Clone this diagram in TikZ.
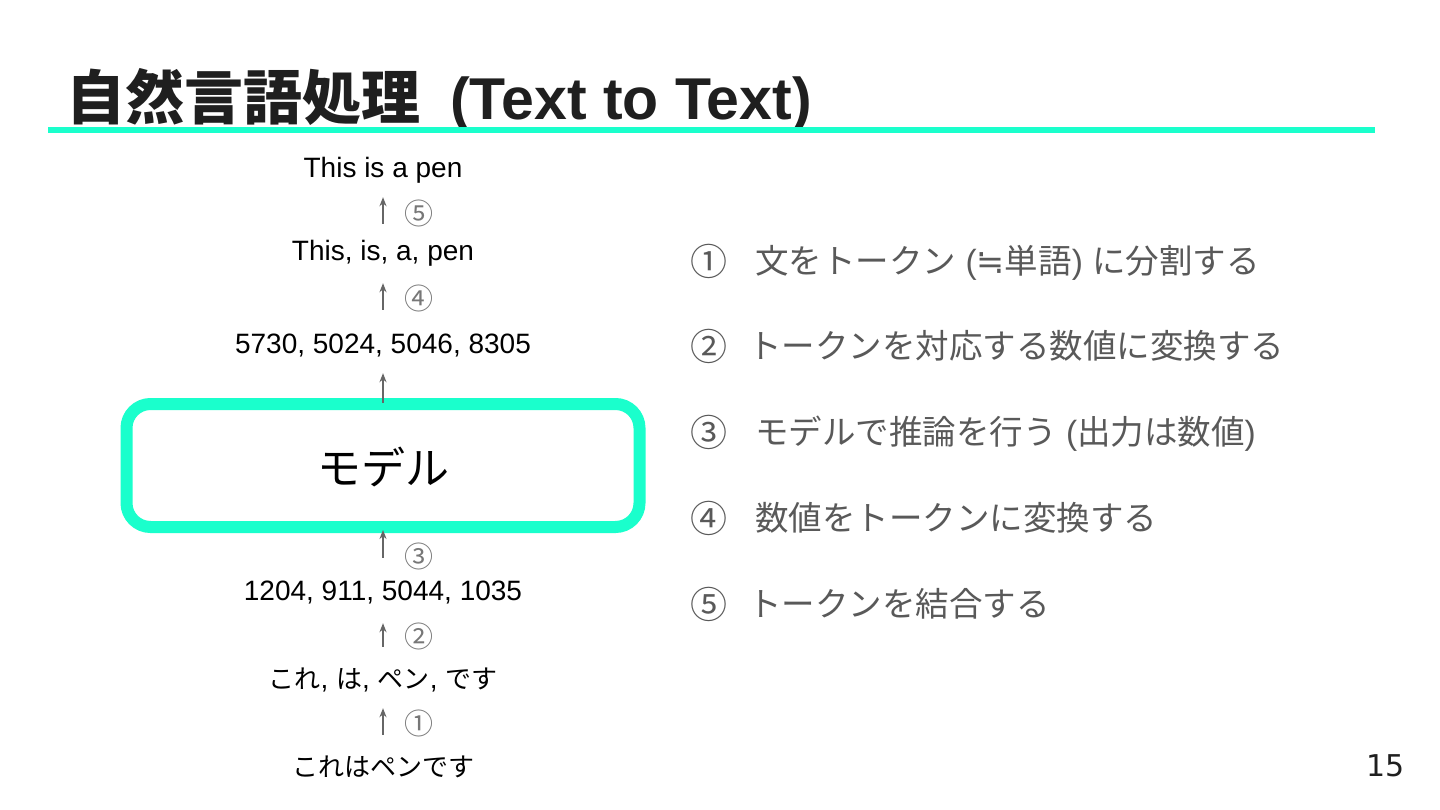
\documentclass[tikz,border=0pt]{standalone}
\usepackage{fontspec}
\setmainfont{Liberation Sans}
\newfontfamily\jp{Noto Sans CJK JP}
\newfontfamily\dv{DejaVu Sans}
\usetikzlibrary{arrows.meta}
\definecolor{teal1}{RGB}{26,255,204}
\definecolor{arrgray}{HTML}{666666}
\definecolor{numgray}{HTML}{777777}
\definecolor{listgray}{HTML}{595959}
\definecolor{titleblack}{HTML}{1F1F1F}
\tikzset{
  lat/.style={inner sep=0pt, text height=20pt, text depth=0pt, font=\fontsize{28}{32}\selectfont},
  jpl/.style={inner sep=0pt, text height=20pt, text depth=0pt, font=\fontsize{26}{30}\selectfont\jp},
  circnum/.style={inner sep=0pt, text=numgray, font=\fontsize{29}{32}\selectfont\jp},
  listnum/.style={inner sep=0pt, text=listgray, font=\fontsize{37}{40}\selectfont\jp},
  flow/.style={draw=arrgray, line width=2pt, -{Stealth[length=9pt,width=7pt]}},
  listitem/.style={anchor=west, inner sep=0pt, text height=29pt, text depth=4pt, text=listgray, font=\fontsize{33.5}{38}\selectfont},
  modelbox/.style={draw=teal1, line width=12pt, rounded corners=24pt, minimum width=513pt, minimum height=123pt, inner sep=0pt}
}
\begin{document}
\begin{tikzpicture}[x=1pt,y=-1pt]
\useasboundingbox[fill=white] (0,0) rectangle (1440,810);
% title
\node[anchor=base west, inner sep=0pt, text=titleblack, font=\fontsize{59}{65}\selectfont\bfseries] (title) at (66,120) {{\jp 自然言語処理}\hspace{30pt}(Text to Text)};
\fill[teal1] (48,127) rectangle (1375,133);
% left column
\node[lat] (t5) at (383,168) {This is a pen};
\node[lat] (t4) at (383,251) {This, is, a, pen};
\node[lat] (t3) at (383,343) {5730, 5024, 5046, 8305};
\node[modelbox] (model) at (383,465.5) {};
\node[inner sep=0pt, font=\fontsize{44}{48}\selectfont\jp] (modeltxt) at (383,467) {モデル};
\node[lat] (t2) at (383,590) {1204, 911, 5044, 1035};
\node[jpl] (t1) at (383,678) {これ{\fontsize{28}{32}\selectfont\rmfamily, }は{\fontsize{28}{32}\selectfont\rmfamily, }ペン{\fontsize{28}{32}\selectfont\rmfamily, }です};
\node[jpl] (t0) at (383,766) {これはペンです};
% arrows
\draw[flow, shorten <=21pt, shorten >=20pt] (t0.north) -- (t1.south);
\draw[flow, shorten <=21pt, shorten >=23pt] (t1.north) -- (t2.south);
\draw[flow, shorten <=22pt, shorten >=-3pt] (t2.north) -- (model.south);
\draw[flow, shorten <=-5pt, shorten >=20pt] (model.north) -- (t3.south);
\draw[flow, shorten <=23pt, shorten >=22pt] (t3.north) -- (t4.south);
\draw[flow, shorten <=17pt, shorten >=19pt] (t4.north) -- (t5.south);
% step numbers
\node[circnum] (c1) at (419,723) {①};
\node[circnum] (c2) at (419,636) {②};
\node[circnum] (c3) at (419,556) {③};
\node[circnum] (c4) at (419,298) {④};
\node[circnum] (c5) at (419,213) {⑤};
% right list
\node[listnum] (n1) at (709,261) {①};
\node[listitem] (l1) at (755,261) {{\jp 文をトークン} ({\dv ≒}{\jp 単語}) {\jp に分割する}};
\node[listnum] (n2) at (709,346) {②};
\node[listitem] (l2) at (748,346) {\jp トークンを対応する数値に変換する};
\node[listnum] (n3) at (709,432) {③};
\node[listitem] (l3) at (755,432) {{\jp モデルで推論を行う} ({\jp 出力は数値})};
\node[listnum] (n4) at (709,518) {④};
\node[listitem] (l4) at (755,518) {\jp 数値をトークンに変換する};
\node[listnum] (n5) at (709,604) {⑤};
\node[listitem] (l5) at (748,604) {\jp トークンを結合する};
% page number
\node[anchor=east, inner sep=0pt, text=titleblack, font=\fontsize{30}{34}\selectfont\dv] (page) at (1405,766) {15};
\end{tikzpicture}
\end{document}
